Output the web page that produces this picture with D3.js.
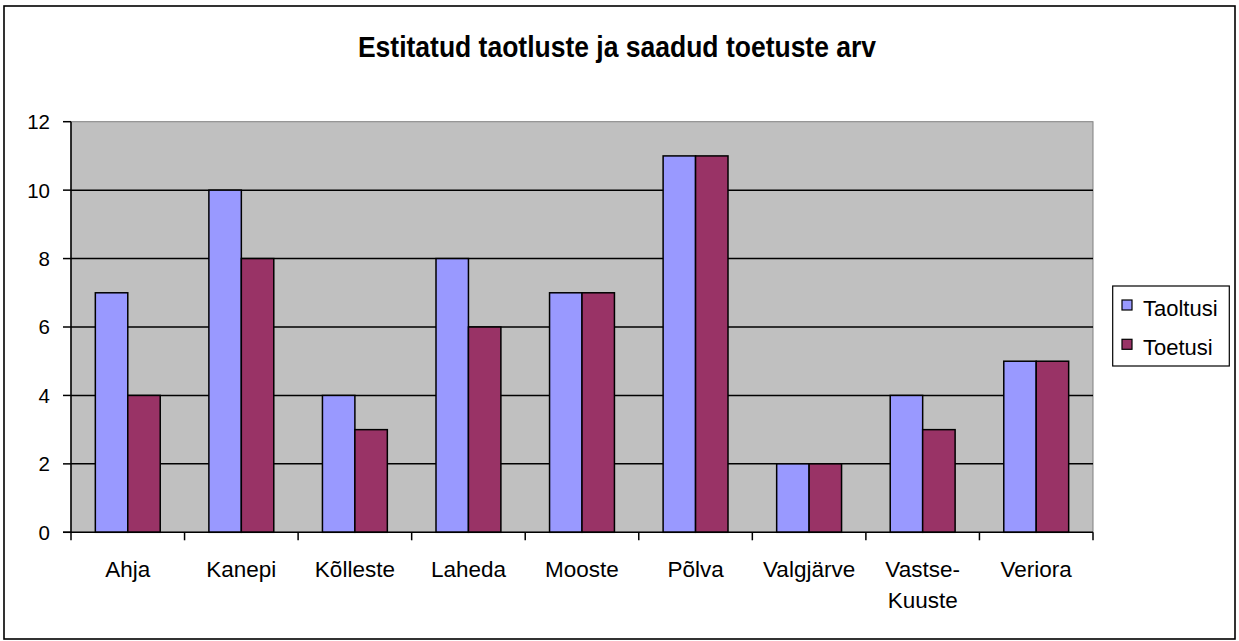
<!DOCTYPE html>
<html>
<head>
<meta charset="utf-8">
<script src="https://cdn.jsdelivr.net/npm/d3@7"></script>
<style>
  html, body { margin: 0; padding: 0; background: #fff; }
  svg { display: block; font-family: "Liberation Sans", Arial, sans-serif; }
</style>
</head>
<body>
<div id="viz-container"></div>
<script>
// Andmed
const categories = ['Ahja', 'Kanepi', 'Kõlleste', 'Laheda', 'Mooste', 'Põlva', 'Valgjärve', 'Vastse-Kuuste', 'Veriora'];
const seriesNames = ['Taoltusi', 'Toetusi'];
const taoltusi = [7, 10, 4, 8, 7, 11, 2, 4, 5];
const toetusi = [4, 8, 3, 6, 7, 11, 2, 3, 5];
const yTicks = [0, 2, 4, 6, 8, 10, 12];
const colors = ['#9999FF', '#993366'];

const W = 1239, H = 641;
const plot = { left: 71, right: 1093, top: 121.7, bottom: 532.3 };

const svg = d3.select('#viz-container').append('svg')
  .attr('width', W).attr('height', H);

// Välimine raam
svg.append('rect')
  .attr('x', 4).attr('y', 6).attr('width', 1231).attr('height', 633)
  .attr('fill', '#fff').attr('stroke', '#000').attr('stroke-width', 1.6);

// Pealkiri
svg.append('text')
  .attr('transform', 'translate(617,56.5) scale(1,1.1)')
  .attr('text-anchor', 'middle')
  .style('font-size', '26.5px').style('font-weight', 'bold')
  .text('Estitatud taotluste ja saadud toetuste arv');

// Skaalad
const x0 = d3.scaleBand().domain(categories).range([plot.left, plot.right]).paddingInner(0).paddingOuter(0);
const groupW = x0.bandwidth() * 2 / 3.5;
const x1 = d3.scaleBand().domain(seriesNames).range([0, groupW]);
const y = d3.scaleLinear().domain([0, 12]).range([plot.bottom, plot.top]);

// Joonise taust
svg.append('rect')
  .attr('x', plot.left).attr('y', plot.top)
  .attr('width', plot.right - plot.left).attr('height', plot.bottom - plot.top)
  .attr('fill', '#C0C0C0').attr('stroke', '#808080').attr('stroke-width', 1);

// Ruudujooned
svg.append('g').selectAll('line')
  .data(yTicks.filter(d => d > 0 && d < 12)).enter()
  .append('line')
  .attr('x1', plot.left).attr('x2', plot.right)
  .attr('y1', d => y(d)).attr('y2', d => y(d))
  .attr('stroke', '#000').attr('stroke-width', 1.5);

// Tulbad
const series = [taoltusi, toetusi];
series.forEach((vals, si) => {
  svg.append('g').selectAll('rect')
    .data(vals).enter()
    .append('rect')
    .attr('x', (d, i) => x0(categories[i]) + (x0.bandwidth() - groupW) / 2 + x1(seriesNames[si]))
    .attr('y', d => y(d))
    .attr('width', x1.bandwidth())
    .attr('height', d => y(0) - y(d))
    .attr('fill', colors[si])
    .attr('stroke', '#000').attr('stroke-width', 1.5);
});

// Y-telg
const yAxis = svg.append('g');
yAxis.append('line')
  .attr('x1', plot.left).attr('x2', plot.left)
  .attr('y1', plot.top).attr('y2', plot.bottom)
  .attr('stroke', '#000').attr('stroke-width', 1.5);
yAxis.selectAll('.tick').data(yTicks).enter()
  .append('line')
  .attr('x1', plot.left - 8).attr('x2', plot.left)
  .attr('y1', d => y(d)).attr('y2', d => y(d))
  .attr('stroke', '#000').attr('stroke-width', 1.5);
yAxis.selectAll('text').data(yTicks).enter()
  .append('text')
  .attr('x', 50).attr('y', d => y(d))
  .attr('dy', '0.36em')
  .attr('text-anchor', 'end')
  .style('font-size', '20.5px')
  .text(d => d);

// X-telg
const xAxis = svg.append('g');
xAxis.append('line')
  .attr('x1', plot.left - 8).attr('x2', plot.right)
  .attr('y1', plot.bottom).attr('y2', plot.bottom)
  .attr('stroke', '#000').attr('stroke-width', 1.5);
const tickPos = categories.map(c => x0(c)).concat([plot.right]);
xAxis.selectAll('.xt').data(tickPos).enter()
  .append('line')
  .attr('x1', d => d).attr('x2', d => d)
  .attr('y1', plot.bottom).attr('y2', plot.bottom + 8)
  .attr('stroke', '#000').attr('stroke-width', 1.5);
xAxis.selectAll('text').data(categories).enter()
  .append('text')
  .attr('x', d => x0(d) + x0.bandwidth() / 2)
  .attr('y', 577)
  .attr('text-anchor', 'middle')
  .style('font-size', '22.5px')
  .each(function(d) {
    const parts = d === 'Vastse-Kuuste' ? ['Vastse-', 'Kuuste'] : [d];
    const t = d3.select(this);
    parts.forEach((p, i) => {
      t.append('tspan')
        .attr('x', x0(d) + x0.bandwidth() / 2)
        .attr('dy', i === 0 ? 0 : 30.6)
        .text(p);
    });
  });

// Legend
const legend = svg.append('g');
legend.append('rect')
  .attr('x', 1112.7).attr('y', 286).attr('width', 116.6).attr('height', 80)
  .attr('fill', '#fff').attr('stroke', '#000').attr('stroke-width', 1.2);
seriesNames.forEach((name, i) => {
  legend.append('rect')
    .attr('x', 1122).attr('y', 300 + i * 39.3).attr('width', 10).attr('height', 10)
    .attr('fill', colors[i]).attr('stroke', '#000').attr('stroke-width', 1.2);
  legend.append('text')
    .attr('x', 1143).attr('y', 315.5 + i * 39.3)
    .style('font-size', '22px')
    .text(name);
});
</script>
</body>
</html>
